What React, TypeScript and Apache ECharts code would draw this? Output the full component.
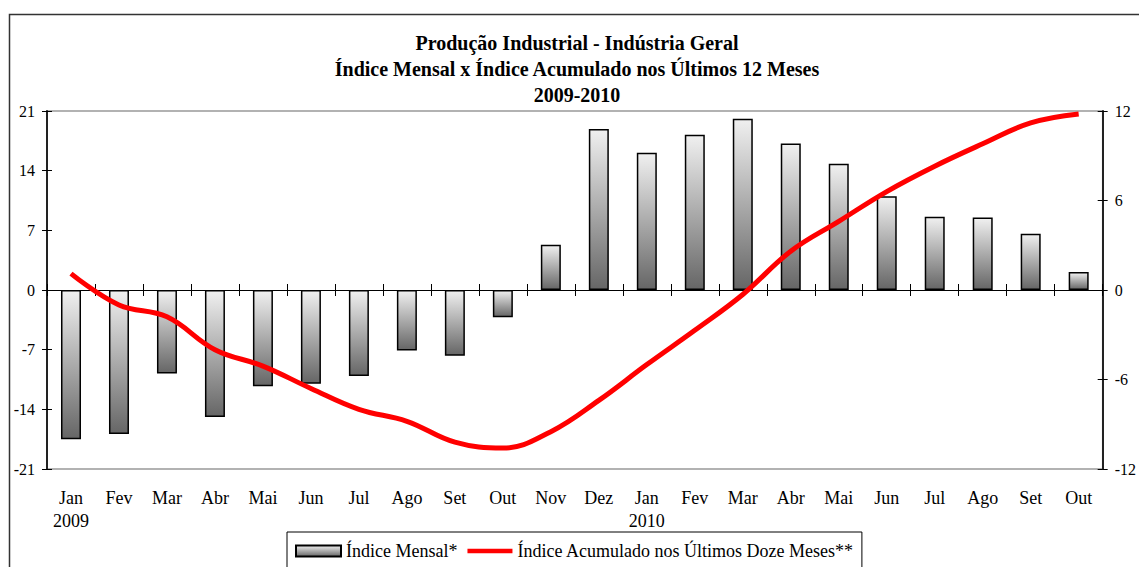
import React, { useEffect, useRef } from "react";
import * as echarts from "echarts";

const months = ["Jan", "Fev", "Mar", "Abr", "Mai", "Jun", "Jul", "Ago", "Set", "Out", "Nov", "Dez",
  "Jan", "Fev", "Mar", "Abr", "Mai", "Jun", "Jul", "Ago", "Set", "Out"];
const yearLabels: Record<number, string> = { 0: "2009", 12: "2010" };
const indiceMensal = [-17.5, -16.9, -9.8, -14.9, -11.3, -11.0, -10.1, -7.1, -7.7, -3.2, 5.3, 18.9,
  16.1, 18.2, 20.1, 17.2, 14.8, 11.0, 8.6, 8.5, 6.6, 2.1];
const indiceAcumulado = [1.1, -1.0, -1.8, -4.0, -5.1, -6.6, -8.0, -8.8, -10.2, -10.6, -9.5, -7.4,
  -5.0, -2.7, -0.3, 2.6, 4.6, 6.6, 8.3, 9.8, 11.2, 11.8];
const titleLines = ["Produção Industrial - Indústria Geral", "Índice Mensal x Índice Acumulado nos Últimos 12 Meses", "2009-2010"];
const seriesNames = ["Índice Mensal*", "Índice Acumulado nos Últimos Doze Meses**"];

const FONT = "'Liberation Serif', 'Times New Roman', serif";

export default function App() {
  const ref = useRef<HTMLDivElement>(null);
  useEffect(() => {
    if (!ref.current) return;
    const chart = echarts.init(ref.current, null, { renderer: "svg" });
    const tickStyle = { color: "#000", width: 1 };
    const yBase = (pos: "left" | "right", min: number, max: number, interval: number) => ({
      type: "value",
      position: pos,
      min, max, interval,
      splitLine: { show: false },
    });
    const xBase = {
      type: "category",
      data: months,
      position: "bottom",
      boundaryGap: true,
    };
    chart.setOption({
      animation: false,
      textStyle: { fontFamily: FONT, color: "#000" },
      title: {
        text: titleLines.join("\n"),
        left: 577,
        top: 30,
        padding: 0,
        textAlign: "center",
        textStyle: { fontFamily: FONT, fontSize: 20, fontWeight: "bold", color: "#000", lineHeight: 26 },
      },
      graphic: [
        {
          type: "rect",
          shape: { x: 9.5, y: 14.5, width: 1300, height: 700 },
          style: { fill: "none", stroke: "#333", lineWidth: 1.5 },
          silent: true,
          z: -10,
        },
      ],
      legend: {
        left: 287,
        top: 532,
        padding: [10, 8, 10, 8],
        itemWidth: 45,
        itemHeight: 11,
        itemGap: 10,
        borderColor: "#000",
        borderWidth: 1,
        textStyle: { fontFamily: FONT, fontSize: 18, color: "#000" },
        data: [
          { name: seriesNames[0], icon: "rect" },
          { name: seriesNames[1], icon: "path://M0,0 L48,0 L48,5 L0,5 Z", itemStyle: { color: "#ff0000", borderWidth: 0 } },
        ],
      },
      grid: {
        left: 47,
        right: 30,
        top: 111,
        bottom: 98,
        show: true,
        borderColor: "#999",
        borderWidth: 1.5,
        backgroundColor: "transparent",
      },
      xAxis: [
        {
          ...xBase,
          axisLine: { show: true, onZero: true, onZeroAxisIndex: 0, lineStyle: { color: "#000", width: 1 } },
          axisTick: { show: true, length: 6, inside: false, lineStyle: tickStyle },
          axisLabel: { show: false },
        },
        {
          ...xBase,
          axisLine: { show: false, onZero: true, onZeroAxisIndex: 0 },
          axisTick: { show: true, length: 6, inside: true, lineStyle: tickStyle },
          axisLabel: { show: false },
        },
        {
          ...xBase,
          axisLine: { show: false, onZero: false },
          axisTick: { show: false },
          axisLabel: {
            show: true,
            interval: 0,
            margin: 17,
            fontFamily: FONT,
            fontSize: 18,
            lineHeight: 23,
            color: "#000",
            formatter: (v: string, i: number) => (yearLabels[i] ? v + "\n" + yearLabels[i] : v),
          },
        },
      ],
      yAxis: [
        {
          ...yBase("left", -21, 21, 7),
          axisLine: { show: true, lineStyle: { color: "#222", width: 2 } },
          axisTick: { show: true, length: 5, inside: false, lineStyle: tickStyle },
          axisLabel: { show: true, margin: 12, fontFamily: FONT, fontSize: 16, color: "#000" },
        },
        {
          ...yBase("right", -12, 12, 6),
          axisLine: { show: true, lineStyle: { color: "#222", width: 2 } },
          axisTick: { show: true, length: 5, inside: false, lineStyle: tickStyle },
          axisLabel: { show: true, margin: 12, fontFamily: FONT, fontSize: 16, color: "#000" },
        },
        {
          ...yBase("left", -21, 21, 7),
          axisLine: { show: false },
          axisTick: { show: true, length: 5, inside: true, lineStyle: tickStyle },
          axisLabel: { show: false },
        },
        {
          ...yBase("right", -12, 12, 6),
          axisLine: { show: false },
          axisTick: { show: true, length: 5, inside: true, lineStyle: tickStyle },
          axisLabel: { show: false },
        },
      ],
      series: [
        {
          name: seriesNames[0],
          type: "bar",
          xAxisIndex: 0,
          yAxisIndex: 0,
          barWidth: 20,
          data: indiceMensal,
          itemStyle: {
            color: new echarts.graphic.LinearGradient(0, 0, 0, 1, [
              { offset: 0, color: "#f0f0f0" },
              { offset: 1, color: "#666666" },
            ]),
            borderColor: "#000",
            borderWidth: 1.5,
          },
          z: 2,
        },
        {
          name: seriesNames[1],
          type: "line",
          xAxisIndex: 0,
          yAxisIndex: 1,
          data: indiceAcumulado,
          smooth: 0.4,
          symbol: "none",
          showSymbol: false,
          lineStyle: { color: "#ff0000", width: 5 },
          itemStyle: { color: "#ff0000" },
          z: 3,
        },
      ],
    });
    return () => chart.dispose();
  }, []);
  return (
    <div
      ref={ref}
      style={{ position: "absolute", left: 0, top: 0, width: 1139, height: 567, background: "#fff" }}
    />
  );
}
